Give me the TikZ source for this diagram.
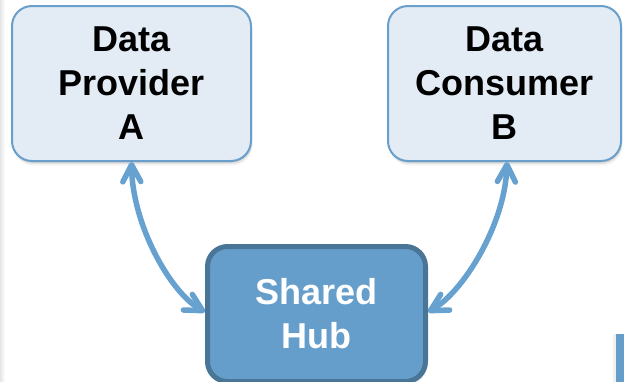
\documentclass[tikz,border=0pt]{standalone}
\usepackage{fontspec}
\setmainfont{Liberation Sans}
\usetikzlibrary{arrows.meta,shadows}

\definecolor{boxfill}{HTML}{E3ECF5}
\definecolor{boxline}{HTML}{6A9FCB}
\definecolor{hubfill}{HTML}{659ECB}
\definecolor{hubline}{HTML}{497597}
\definecolor{linkcol}{HTML}{67A1CF}

\tikzset{
  soft shadow/.style={
    drop shadow={shadow xshift=0.5pt, shadow yshift=-1.5pt, opacity=0.10, fill=black},
    drop shadow={shadow xshift=1pt, shadow yshift=-3pt, opacity=0.07, fill=black},
    drop shadow={shadow xshift=1.5pt, shadow yshift=-4.5pt, opacity=0.04, fill=black}},
  label text/.style={font=\fontsize{36}{44}\selectfont\bfseries, align=center},
  party/.style={label text, draw=boxline, fill=boxfill, line width=2pt,
    rounded corners=20pt, inner sep=0pt, minimum height=155pt, soft shadow},
  hubbox/.style={label text, draw=hubline, fill=hubfill, text=white, line width=5pt,
    rounded corners=20pt, inner sep=0pt, minimum width=218pt, minimum height=135pt, soft shadow},
  link/.style={draw=linkcol, line width=5.5pt, line cap=round,
    {Straight Barb[length=17pt,width=18pt,round]}-{Straight Barb[length=17pt,width=18pt,round]}}
}

\begin{document}
\begin{tikzpicture}[x=1pt,y=-1pt]
  \useasboundingbox (0,0) rectangle (624,381);
  \clip (0,0) rectangle (624,381);

  % faint page edge on the left
  \fill[left color=black!10, right color=white] (0,0) rectangle (5,381);

  % the two parties
  \node[party, minimum width=239pt] (A) at (131.5,83.5) {Data\\Provider\\A};
  \node[party, minimum width=233pt] (B) at (504.5,83.5) {Data\\Consumer\\B};

  % the shared hub
  \node[hubbox] (hub) at (316.5,314) {Shared\\Hub};

  % two-way links between the parties and the hub
  \draw[link] (A.south) .. controls +(1,63) and +(-35,-20) .. ([yshift=2pt]hub.west);
  \draw[link] ([xshift=2.5pt]B.south) .. controls +(-2,63) and +(35,-20) .. ([yshift=2pt]hub.east);

  % edge of a further box in the corner
  \fill[black, opacity=0.06] (613,334) rectangle (616,385);
  \fill[hubfill] (616,334) rectangle (626,385);
\end{tikzpicture}
\end{document}
